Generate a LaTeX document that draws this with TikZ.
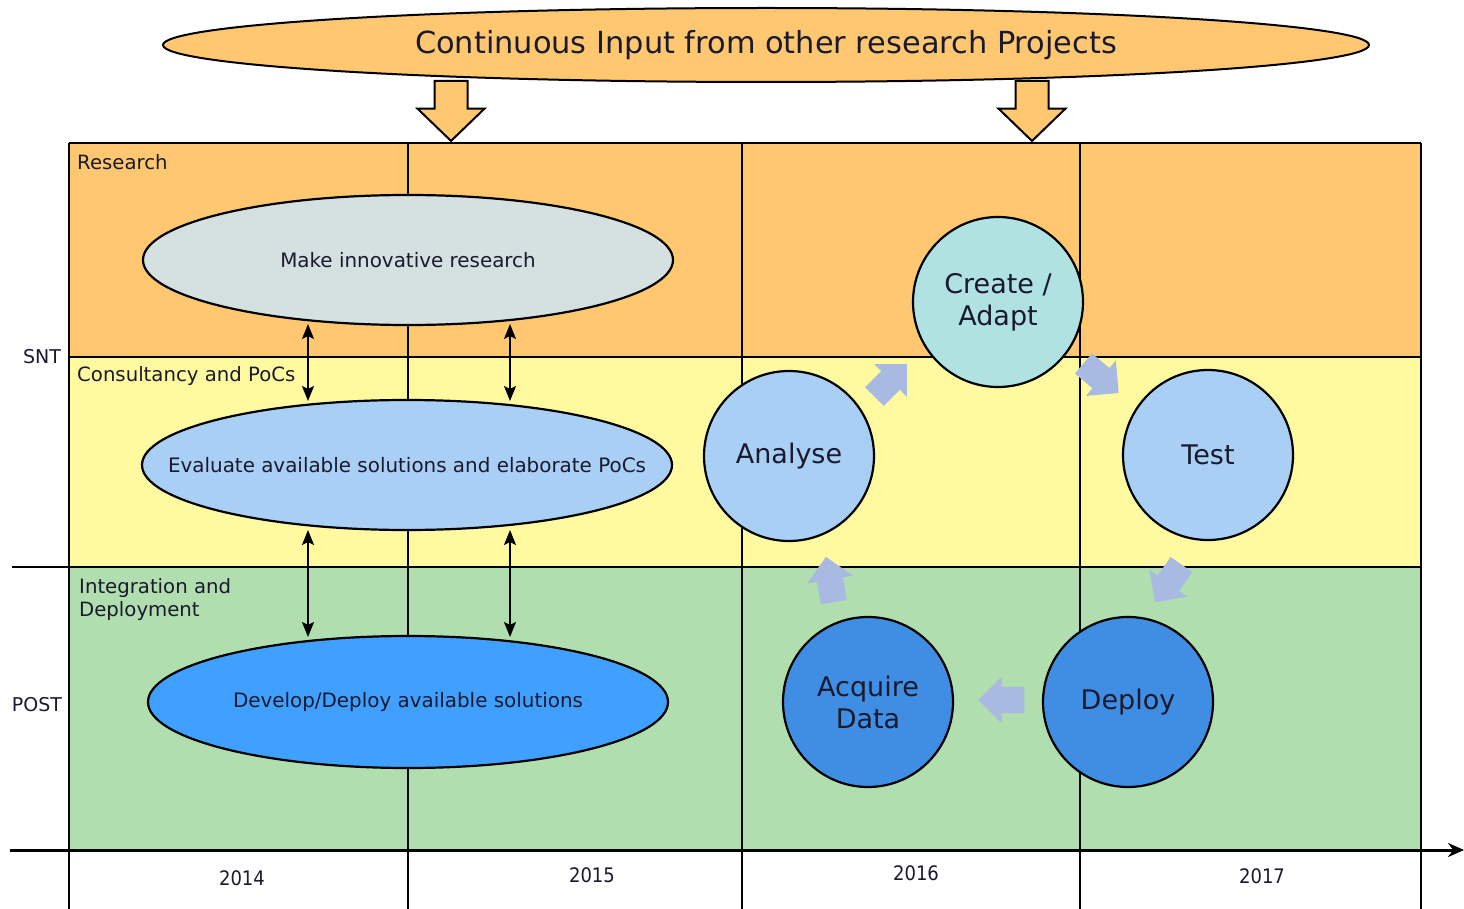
\documentclass[tikz,border=0pt]{standalone}
\usepackage{fontspec}
\setmainfont{DejaVu Sans}
\newfontfamily\condfont{DejaVu Sans Condensed}
\usetikzlibrary{shapes.geometric,shapes.arrows,arrows.meta}
\definecolor{orangebg}{HTML}{FFC870}
\definecolor{yellowbg}{HTML}{FFFAA0}
\definecolor{greenbg}{HTML}{B1DEAE}
\definecolor{greyell}{HTML}{D5E0E0}
\definecolor{lblue}{HTML}{A9CFF5}
\definecolor{mblue}{HTML}{40A0FF}
\definecolor{cyanc}{HTML}{B0E2E2}
\definecolor{dblue}{HTML}{3F8EE3}
\definecolor{barrow}{HTML}{A8B9E2}
\definecolor{txt}{HTML}{1A1A2E}
\tikzset{
  rowlabel/.style={anchor=north west,inner sep=0pt,font=\fontsize{19.7}{23.5}\selectfont,text=txt,align=left},
  sidelabel/.style={inner sep=0pt,font=\fontsize{19}{23}\selectfont,text=txt},
  yearlabel/.style={inner sep=0pt,font=\condfont\fontsize{20}{24}\selectfont,text=txt},
  taskell/.style={ellipse,draw=black,line width=2.2pt,inner sep=0pt},
  elltext/.style={font=\fontsize{19.9}{24}\selectfont,text=txt},
  stepcirc/.style={circle,draw=black,line width=2.2pt,minimum size=170pt,inner sep=0pt,align=center,font=\fontsize{27}{32}\selectfont,text=txt},
  flowarrow/.style={single arrow,fill=barrow,draw=none,minimum height=46pt,inner xsep=0pt,inner ysep=13pt,single arrow head extend=10pt},
  bigarrow/.style={single arrow,fill=orangebg,draw=black,line width=2pt,minimum height=60pt,inner xsep=0pt,inner ysep=15.5pt,single arrow head extend=17pt,single arrow tip angle=92,rotate=-90},
  grid/.style={line width=2pt,black},
  dbl/.style={line width=2pt,{Stealth[length=15pt,width=12pt,inset=3pt]}-{Stealth[length=15pt,width=12pt,inset=3pt]}}
}
\begin{document}
\begin{tikzpicture}[x=1pt,y=-1pt]
\useasboundingbox (0,0) rectangle (1464,909);
\fill[white] (0,0) rectangle (1464,909);
% rows
\fill[orangebg] (69,143) rectangle (1421,357);
\fill[yellowbg] (69,357) rectangle (1421,567);
\fill[greenbg] (69,567) rectangle (1421,850);
% grid lines
\draw[grid] (69,143) -- (1421,143);
\draw[grid] (69,357) -- (1421,357);
\draw[grid] (12,567) -- (1421,567);
\foreach \x in {69,408,742,1080,1421} \draw[grid] (\x,143) -- (\x,909);
\draw[line width=3pt,-{Stealth[length=16pt,width=14pt]}] (10,850) -- (1464,850);
% top ellipse and arrows
\node[bigarrow] (in1) at (451,103) {};
\node[bigarrow] (in2) at (1032,103) {};
\node[ellipse,draw=black,line width=2pt,fill=orangebg,minimum width=1206pt,minimum height=74pt,inner sep=0pt,font=\fontsize{30.4}{35}\selectfont,text=txt] (top) at (766,45) {Continuous Input from other research Projects};
% row labels
\node[rowlabel] (lres) at (77,154) {Research};
\node[rowlabel] (lcons) at (77,366) {Consultancy and PoCs};
\node[rowlabel] (lint) at (79,578) {Integration and\\Deployment};
\node[sidelabel] (snt) at (42,357) {SNT};
\node[sidelabel] (post) at (37,705) {POST};
% years
\node[yearlabel] (y14) at (242,878) {2014};
\node[yearlabel] (y15) at (592,875) {2015};
\node[yearlabel] (y16) at (916,873) {2016};
\node[yearlabel] (y17) at (1262,876) {2017};
% ellipses
\node[taskell,fill=greyell,minimum width=530pt,minimum height=130pt,label={[elltext]center:Make innovative research}] (res) at (408,260) {};
\node[taskell,fill=lblue,minimum width=530pt,minimum height=130pt,label={[elltext]center:Evaluate available solutions and elaborate PoCs}] (eval) at (407,465) {};
\node[taskell,fill=mblue,minimum width=520pt,minimum height=132pt,label={[elltext]center:Develop/Deploy available solutions}] (dev) at (408,702) {};
% double arrows
\coordinate (a1t) at (308,324); \coordinate (a1b) at (308,401);
\coordinate (a2t) at (510,324); \coordinate (a2b) at (510,401);
\coordinate (a3t) at (308,530); \coordinate (a3b) at (308,637);
\coordinate (a4t) at (510,530); \coordinate (a4b) at (510,637);
\draw[dbl] (a1t) -- (a1b);
\draw[dbl] (a2t) -- (a2b);
\draw[dbl] (a3t) -- (a3b);
\draw[dbl] (a4t) -- (a4b);
% cycle circles
\node[stepcirc,fill=cyanc] (create) at (998,302) {Create /\\Adapt};
\node[stepcirc,fill=lblue] (analyse) at (789,456) {Analyse};
\node[stepcirc,fill=lblue] (test) at (1208,455) {Test};
\node[stepcirc,fill=dblue] (acquire) at (868,702) {Acquire\\Data};
\node[stepcirc,fill=dblue] (deploy) at (1128,702) {Deploy};
% flow arrows
\node[flowarrow,rotate=45] (f1) at (886,385) {};
\node[flowarrow,rotate=-40] (f2) at (1096,374) {};
\node[flowarrow,rotate=-125] (f3) at (1172,578) {};
\node[flowarrow,rotate=180] (f4) at (1008,700) {};
\node[flowarrow,rotate=100] (f5) at (831,586) {};
\end{tikzpicture}
\end{document}
